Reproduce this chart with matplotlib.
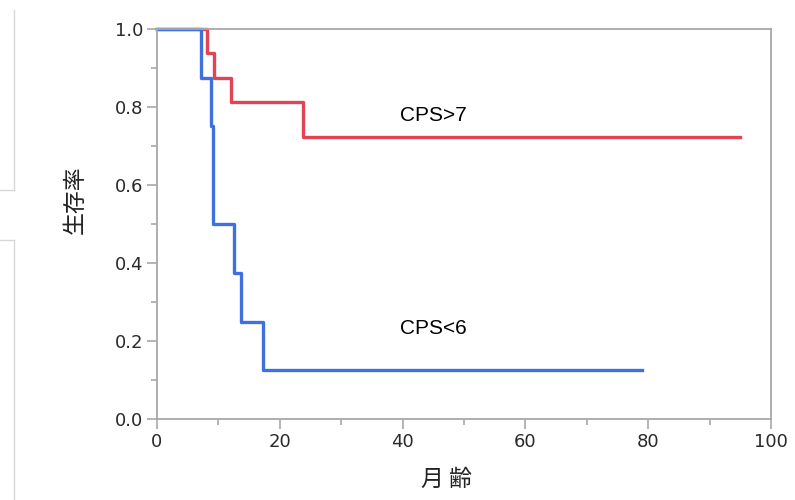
import numpy as np
import matplotlib.pyplot as plt
from matplotlib.lines import Line2D

plt.rcParams['font.family'] = ['DejaVu Sans', 'Noto Sans CJK JP']

# Kaplan-Meier steps
cps_low_t = [0, 7.1, 8.8, 9.2, 12.6, 13.6, 17.2, 79]
cps_low_s = [1.0, 0.875, 0.75, 0.5, 0.375, 0.25, 0.125, 0.125]
cps_high_t = [0, 8.1, 9.3, 12.1, 23.8, 95]
cps_high_s = [1.0, 0.9375, 0.875, 0.8125, 0.7222, 0.7222]

xticks = [0, 20, 40, 60, 80, 100]
yticks = [0.0, 0.2, 0.4, 0.6, 0.8, 1.0]

fig = plt.figure(figsize=(7.95, 5), dpi=100)
ax = fig.add_axes([157/795, 1 - 419/500, (771 - 157)/795, (419 - 29)/500])

ax.step(cps_high_t, cps_high_s, where='post', color='#e04455', lw=2.4, clip_on=False)
ax.step(cps_low_t, cps_low_s, where='post', color='#4070e0', lw=2.4, clip_on=False)

ax.set_xlim(0, 100)
ax.set_ylim(0, 1.0)
ax.set_xticks(xticks)
ax.set_yticks(yticks)
ax.set_yticklabels(['%.1f' % v for v in yticks])
ax.set_xticks(np.arange(10, 100, 20), minor=True)
ax.set_yticks(np.arange(0.1, 1.0, 0.2), minor=True)
ax.tick_params(which='major', length=7, width=1.2, color='#a8a8a8', labelsize=13, labelcolor='#2a2a2a', pad=3)
ax.tick_params(which='minor', length=4, width=1.2, color='#a8a8a8')
for s in ax.spines.values():
    s.set_color('#a8a8a8')
    s.set_linewidth(1.3)

ax.text(39.6, 0.778, 'CPS>7', fontsize=15, va='center', ha='left', family='Liberation Sans')
ax.text(39.6, 0.232, 'CPS<6', fontsize=15, va='center', ha='left', family='Liberation Sans')

fig.text(75/795, 1 - 200/500, '生存率', rotation=90, fontsize=16.5, ha='center', va='center',
         family=['Noto Sans CJK JP', 'DejaVu Sans'], color='#222222')
fig.text(446/795, 1 - 479/500, '月 齢', fontsize=16.5, ha='center', va='center',
         family=['Noto Sans CJK JP', 'DejaVu Sans'], color='#222222')

# screenshot panel edges at the left
lc = '#d8d8d8'
fig.add_artist(Line2D([14/795, 14/795], [1 - 10/500, 1 - 190/500], color=lc, lw=1))
fig.add_artist(Line2D([0, 14/795], [1 - 190/500, 1 - 190/500], color=lc, lw=1))
fig.add_artist(Line2D([0, 14/795], [1 - 240/500, 1 - 240/500], color=lc, lw=1))
fig.add_artist(Line2D([14/795, 14/795], [1 - 240/500, 0], color=lc, lw=1))

fig.savefig('out.png', dpi=100)
